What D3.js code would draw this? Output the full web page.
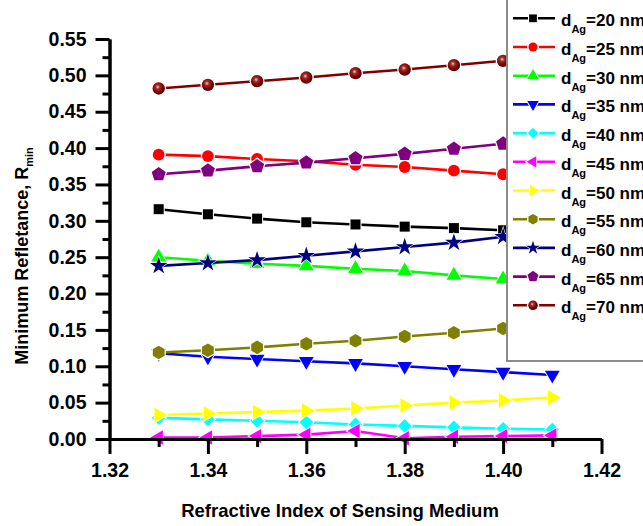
<!DOCTYPE html>
<html>
<head>
<meta charset="utf-8">
<script src="https://cdn.jsdelivr.net/npm/d3@7"></script>
<style>
  body { margin: 0; background: #fff; }
  svg { display: block; font-family: "Liberation Sans", Arial, sans-serif; font-weight: bold; }
</style>
</head>
<body>
<div id="chart"></div>
<script>
//////////////////////////////////////////////////////////////////////////////
// Data

var xIndex = [1.33, 1.34, 1.35, 1.36, 1.37, 1.38, 1.39, 1.40, 1.41];

var r20 = [0.316, 0.309, 0.303, 0.298, 0.295, 0.292, 0.290, 0.287, 0.285];
var r25 = [0.391, 0.389, 0.385, 0.382, 0.377, 0.374, 0.369, 0.364, 0.360];
var r30 = [0.250, 0.245, 0.241, 0.238, 0.234, 0.231, 0.225, 0.220, 0.215];
var r35 = [0.118, 0.113, 0.110, 0.107, 0.104, 0.100, 0.096, 0.092, 0.088];
var r40 = [0.029, 0.027, 0.025, 0.023, 0.020, 0.018, 0.016, 0.014, 0.013];
var r45 = [0.002, 0.002, 0.004, 0.006, 0.011, 0.001, 0.003, 0.004, 0.005];
var r50 = [0.033, 0.035, 0.037, 0.039, 0.042, 0.046, 0.050, 0.053, 0.057];
var r55 = [0.119, 0.122, 0.126, 0.131, 0.135, 0.141, 0.146, 0.152, 0.158];
var r60 = [0.238, 0.242, 0.246, 0.252, 0.258, 0.264, 0.270, 0.278, 0.284];
var r65 = [0.364, 0.369, 0.375, 0.380, 0.386, 0.392, 0.399, 0.406, 0.412];
var r70 = [0.482, 0.487, 0.492, 0.497, 0.503, 0.508, 0.514, 0.520, 0.526];

var thickness = ["20", "25", "30", "35", "40", "45", "50", "55", "60", "65", "70"];

var xTicks = [1.32, 1.34, 1.36, 1.38, 1.40, 1.42];
var yTicks = [0, 0.05, 0.10, 0.15, 0.20, 0.25, 0.30, 0.35, 0.40, 0.45, 0.50, 0.55];

//////////////////////////////////////////////////////////////////////////////
// Marker shapes

function polygon(n, rot) {
    return {
        draw: function(ctx, size) {
            var r = Math.sqrt(2 * size / (n * Math.sin(2 * Math.PI / n)));
            for (var i = 0; i < n; i++) {
                var a = rot + 2 * Math.PI * i / n;
                var px = r * Math.sin(a), py = -r * Math.cos(a);
                if (i) ctx.lineTo(px, py); else ctx.moveTo(px, py);
            }
            ctx.closePath();
        }
    };
}

var shapes = {
    square:   polygon(4, Math.PI / 4),
    circle:   d3.symbolCircle,
    up:       polygon(3, 0),
    down:     polygon(3, Math.PI),
    diamond:  polygon(4, 0),
    left:     polygon(3, -Math.PI / 2),
    right:    polygon(3, Math.PI / 2),
    hexagon:  polygon(6, 0),
    star:     d3.symbolStar,
    pentagon: polygon(5, 0)
};

var seriesValues = [r20, r25, r30, r35, r40, r45, r50, r55, r60, r65, r70];
var colors  = ["#000000", "#ff0000", "#00ff00", "#0000ff", "#00ffff", "#ff00ff",
               "#ffff00", "#808000", "#000080", "#800080", "#800000"];
var markers = ["square", "circle", "up", "down", "diamond", "left",
               "right", "hexagon", "star", "pentagon", "circle"];
var sizes   = [100, 110, 95, 95, 95, 90, 95, 120, 95, 130, 120];

var series = seriesValues.map(function(vals, i) {
    return {
        name: thickness[i],
        color: colors[i],
        marker: markers[i],
        size: sizes[i],
        fill: i === 10 ? "url(#ball)" : colors[i],
        points: vals.map(function(v, j) { return { x: xIndex[j], y: v }; })
    };
});

//////////////////////////////////////////////////////////////////////////////
// Chart

var width = 643, height = 526;

var xScale = d3.scaleLinear().domain([1.32, 1.42]).range([109.5, 601.5]);
var yScale = d3.scaleLinear().domain([0, 0.55]).range([439, 39]);

var svg = d3.select("#chart")
    .append("svg")
    .attr("width", width)
    .attr("height", height);

// shaded ball for the 70 nm series
var grad = svg.append("defs").append("radialGradient")
    .attr("id", "ball")
    .attr("cx", "42%").attr("cy", "38%").attr("r", "60%");
grad.append("stop").attr("offset", "0%").attr("stop-color", "#f0c8c8");
grad.append("stop").attr("offset", "30%").attr("stop-color", "#a02828");
grad.append("stop").attr("offset", "75%").attr("stop-color", "#7a0000");
grad.append("stop").attr("offset", "100%").attr("stop-color", "#500000");

var line = d3.line()
    .x(function(d) { return xScale(d.x); })
    .y(function(d) { return yScale(d.y); });

var plot = svg.append("g");

series.forEach(function(s) {
    var g = plot.append("g");
    g.append("path")
        .datum(s.points)
        .attr("fill", "none")
        .attr("stroke", s.color)
        .attr("stroke-width", 2.6)
        .attr("d", line);

    var sym = d3.symbol().type(shapes[s.marker]).size(s.size);
    var halo = d3.symbol().type(shapes[s.marker]).size(s.size * 1.45);

    g.selectAll(".halo")
        .data(s.points)
        .enter()
        .append("path")
        .attr("class", "halo")
        .attr("transform", function(d) { return "translate(" + xScale(d.x) + "," + yScale(d.y) + ")"; })
        .attr("d", halo)
        .attr("fill", "#fff");

    g.selectAll(".mark")
        .data(s.points)
        .enter()
        .append("path")
        .attr("class", "mark")
        .attr("transform", function(d) { return "translate(" + xScale(d.x) + "," + yScale(d.y) + ")"; })
        .attr("d", sym)
        .attr("fill", s.fill);
});

// axes
var xMinor = d3.range(1.33, 1.42, 0.02);
var yMinor = d3.range(0.025, 0.55, 0.05);

function styleAxis(g) {
    g.select(".domain").attr("stroke-width", 3).attr("stroke", "#000");
    g.selectAll(".tick line").attr("stroke-width", 3).attr("stroke", "#000");
    g.selectAll(".tick text")
        .attr("fill", "#000")
        .style("font-size", "19.5px")
        .style("font-weight", "bold");
}

svg.append("g")
    .attr("transform", "translate(0," + yScale(0) + ")")
    .call(d3.axisBottom(xScale).tickValues(xMinor).tickSize(8).tickSizeOuter(0).tickFormat(""))
    .call(styleAxis);

svg.append("g")
    .attr("transform", "translate(0," + yScale(0) + ")")
    .call(d3.axisBottom(xScale).tickValues(xTicks).tickSize(15).tickSizeOuter(0)
        .tickPadding(9).tickFormat(d3.format(".2f")))
    .call(styleAxis);

svg.append("g")
    .attr("transform", "translate(" + xScale(1.32) + ",0)")
    .call(d3.axisLeft(yScale).tickValues(yMinor).tickSize(7).tickSizeOuter(0).tickFormat(""))
    .call(styleAxis);

svg.append("g")
    .attr("transform", "translate(" + xScale(1.32) + ",0)")
    .call(d3.axisLeft(yScale).tickValues(yTicks).tickSize(14).tickSizeOuter(0)
        .tickPadding(9).tickFormat(d3.format(".2f")))
    .call(styleAxis);

// axis titles
svg.append("text")
    .attr("x", 340)
    .attr("y", 517)
    .attr("text-anchor", "middle")
    .style("font-size", "18.5px")
    .text("Refractive Index of Sensing Medium");

var yTitle = svg.append("text")
    .attr("transform", "translate(28,256) rotate(-90)")
    .attr("text-anchor", "middle")
    .style("font-size", "18px");
yTitle.append("tspan").text("Minimum Refletance, R");
yTitle.append("tspan").attr("dy", 5).style("font-size", "11px").text("min");

// legend
var legend = svg.append("g");

legend.append("rect")
    .attr("x", 507)
    .attr("y", -2)
    .attr("width", 150)
    .attr("height", 363)
    .attr("fill", "#fff")
    .attr("stroke", "#8c8c8c")
    .attr("stroke-width", 2);

var rowY = d3.scaleLinear().domain([0, 1]).range([18.3, 47]);

series.forEach(function(s, i) {
    var y = rowY(i);
    var row = legend.append("g").attr("transform", "translate(0," + y + ")");
    row.append("line")
        .attr("x1", 513).attr("x2", 555)
        .attr("y1", 0).attr("y2", 0)
        .attr("stroke", s.color)
        .attr("stroke-width", 2.6);
    row.append("path")
        .attr("transform", "translate(533,0)")
        .attr("d", d3.symbol().type(shapes[s.marker]).size(s.size * 1.0))
        .attr("fill", "#fff");
    row.append("path")
        .attr("transform", "translate(533,0)")
        .attr("d", d3.symbol().type(shapes[s.marker]).size(s.size * 0.6))
        .attr("fill", s.fill);

    var t = row.append("text")
        .attr("x", 561)
        .attr("y", 8)
        .style("font-size", "17px");
    t.append("tspan").text("d");
    t.append("tspan").attr("dy", 7).style("font-size", "11px").text("Ag");
    t.append("tspan").attr("dy", -7).text("=" + s.name + " nm");
});
</script>
</body>
</html>
